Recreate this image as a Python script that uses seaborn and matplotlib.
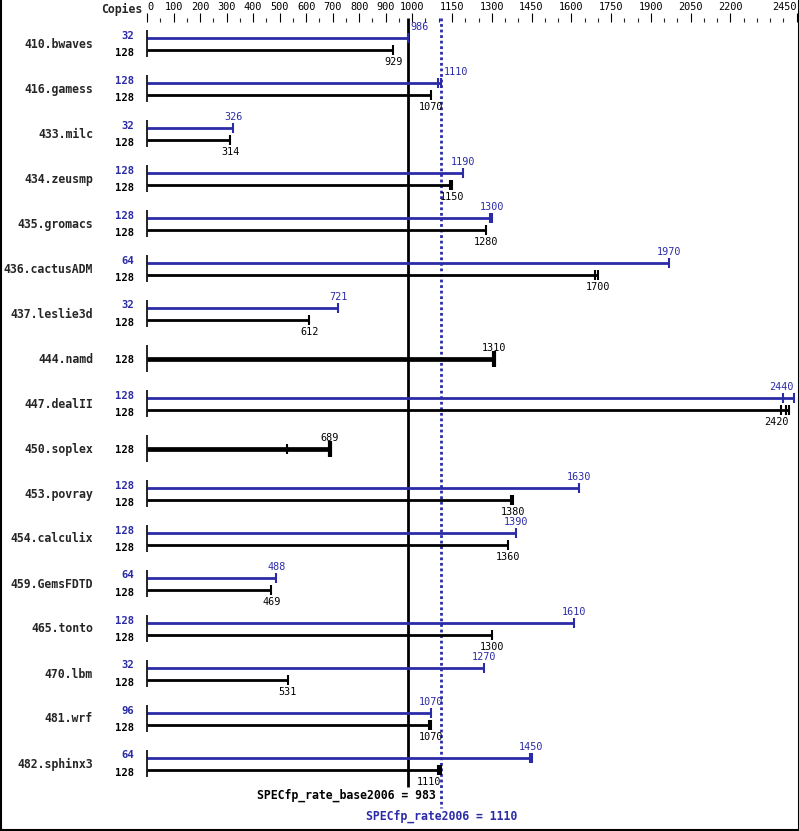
import matplotlib
matplotlib.use('Agg')
import matplotlib.pyplot as plt
import matplotlib.transforms as mtransforms
from matplotlib.lines import Line2D
import pandas as pd
import seaborn as sns

# ---------------- data ----------------
benchmarks = ["410.bwaves", "416.gamess", "433.milc", "434.zeusmp", "435.gromacs",
              "436.cactusADM", "437.leslie3d", "444.namd", "447.dealII", "450.soplex",
              "453.povray", "454.calculix", "459.GemsFDTD", "465.tonto", "470.lbm",
              "481.wrf", "482.sphinx3"]
peak_copies = [32, 128, 32, 128, 128, 64, 32, None, 128, None, 128, 128, 64, 128, 32, 96, 64]
peak_ratio = [986, 1110, 326, 1190, 1300, 1970, 721, None, 2440, None, 1630, 1390, 488, 1610, 1270, 1070, 1450]
base_copies = [128] * 17
base_ratio = [929, 1070, 314, 1150, 1280, 1700, 612, 1310, 2420, 689, 1380, 1360, 469, 1300, 531, 1070, 1110]
# other (non-median) run results visible as extra ticks
extra_bench = ["416.gamess", "434.zeusmp", "435.gromacs", "436.cactusADM", "447.dealII",
               "447.dealII", "447.dealII", "450.soplex", "453.povray", "481.wrf",
               "482.sphinx3", "482.sphinx3", "482.sphinx3"]
extra_series = ["peak", "base", "peak", "base", "peak", "base", "base", "base", "base", "base",
                "peak", "base", "base"]
extra_value = [1098, 1142, 1294, 1690, 2397, 2391, 2408, 528, 1372, 1062, 1444, 1096, 1102]
base_score = 983
peak_score = 1110
major_ticks = [0, 100, 200, 300, 400, 500, 600, 700, 800, 900, 1000,
               1150, 1300, 1450, 1600, 1750, 1900, 2050, 2200, 2450]

# ---------------- style ----------------
sns.set_style('white')
plt.rcParams['font.family'] = ['DejaVu Sans Mono']
BLUE = '#2b2ba8'

W, H = 799, 831
fig = plt.figure(figsize=(W / 100, H / 100), dpi=100)
ax_left, ax_right, ax_top = 147, 797, 22
ax = fig.add_axes([ax_left / W, 0, (ax_right - ax_left) / W, (H - ax_top) / H])
ppu = 0.2652  # pixels per ratio unit
ax.set_xlim(0, (ax_right - ax_left) / ppu)
ax.set_ylim(H - ax_top, 0)
for s in ax.spines.values():
    s.set_visible(False)

SLOT = 45
OFF_PEAK, OFF_BASE, OFF_SINGLE = 16, 28, 22

rows = []
for i, b in enumerate(benchmarks):
    y0 = i * SLOT
    if peak_ratio[i] is None:
        rows.append(dict(bench=b, series='single', value=base_ratio[i], y=y0 + OFF_SINGLE,
                         copies=base_copies[i]))
    else:
        rows.append(dict(bench=b, series='peak', value=peak_ratio[i], y=y0 + OFF_PEAK,
                         copies=peak_copies[i]))
        rows.append(dict(bench=b, series='base', value=base_ratio[i], y=y0 + OFF_BASE,
                         copies=base_copies[i]))
df = pd.DataFrame(rows)
ymap = {(r.bench, r.series): r.y for r in df.itertuples()}
ymap.update({(r.bench, 'base'): r.y for r in df.itertuples() if r.series == 'single'})

colors = {'peak': BLUE, 'base': 'black', 'single': 'black'}
widths = {'peak': 2.0, 'base': 2.0, 'single': 3.4}

# bars
for r in df.itertuples():
    ax.hlines(r.y, 0, r.value, color=colors[r.series], lw=widths[r.series], zorder=3)

# end caps + extra run ticks
caps = df[['value', 'y', 'series']].copy()
ext = pd.DataFrame(dict(value=extra_value,
                        y=[ymap[(b, s)] for b, s in zip(extra_bench, extra_series)],
                        series=['single' if (b, 'single') in ymap else s
                                for b, s in zip(extra_bench, extra_series)]))
ext['series'] = [('base' if s == 'single' else s) for s in ext['series']]
allcaps = pd.concat([caps, ext], ignore_index=True)
thin = allcaps[allcaps.series != 'single']
sns.scatterplot(data=thin, x='value', y='y', hue='series', palette=colors, marker='|',
                s=55, linewidth=1.5, legend=False, ax=ax, zorder=4, clip_on=False)
thick = allcaps[allcaps.series == 'single']
sns.scatterplot(data=thick, x='value', y='y', color='black', marker='|',
                s=120, linewidth=3, legend=False, ax=ax, zorder=4, clip_on=False)

# baseline segments for each benchmark
for i in range(len(benchmarks)):
    ax.vlines(0, i * SLOT + 8, i * SLOT + 35, color='black', lw=1.2, zorder=3, clip_on=False)

# reference lines
ax.vlines(base_score, -4, 765, color='black', lw=2, zorder=2, clip_on=False)
ax.vlines(peak_score, -4, 786, color=BLUE, lw=2, linestyles=(0, (1, 1)), zorder=2, clip_on=False)

# value labels
dx = 2 / ppu
for r in df.itertuples():
    v = r.value
    if r.series == 'peak':
        ty, col = r.y - 11, BLUE
        if any(0 <= v - ref < 30 for ref in (base_score, peak_score)):
            ha, tx = 'left', v + dx
        else:
            ha, tx = 'center', v
    elif r.series == 'base':
        ty, col = r.y + 12, 'black'
        if 0 <= v - peak_score < 15:
            ha, tx = 'right', v
        else:
            ha, tx = 'center', v
    else:
        ty, col = r.y - 11, 'black'
        ha, tx = 'center', v
    if v > 2350:
        ha, tx = 'right', v
    ax.text(tx, ty, f"{v:d}", color=col, ha=ha, va='center', fontsize=7.3, zorder=5, clip_on=False)

# left labels
tr = mtransforms.blended_transform_factory(fig.transFigure, ax.transData)
for i, b in enumerate(benchmarks):
    ax.text(93 / W, i * SLOT + 22, b, transform=tr, ha='right', va='center',
            fontsize=8.3, fontweight='bold')
for r in df.itertuples():
    if r.series == 'peak':
        ty, col = r.y - 2.5, BLUE
    elif r.series == 'base':
        ty, col = r.y + 3, 'black'
    else:
        ty, col = r.y + 1, 'black'
    ax.text(134 / W, ty, str(int(r.copies)), transform=tr, ha='right', va='center',
            fontsize=7.6, fontweight='bold', color=col)

fig.text(142 / W, 1 - 9 / H, "Copies", ha='right', va='center', fontsize=8.3, fontweight='bold')

# top axis
ax.xaxis.tick_top()
ax.set_xticks(major_ticks)
ax.set_xticklabels([str(t) for t in major_ticks])
ax.set_xticks(list(range(0, 2451, 50)), minor=True)
ax.tick_params(axis='x', which='major', direction='out', length=6.5, width=0.8,
               pad=1, labelsize=7.4, colors='black', top=True, bottom=False)
ax.tick_params(axis='x', which='minor', direction='out', length=3, width=0.8,
               top=True, bottom=False)
ax.set_yticks([])
labs = ax.get_xticklabels()
labs[0].set_horizontalalignment('left')
labs[-1].set_horizontalalignment('right')
ax.set_xlabel('')
ax.set_ylabel('')

# score texts
ax.text(peak_score - 23, 773, f"SPECfp_rate_base2006 = {base_score}", ha='right', va='center',
        fontsize=8.3, fontweight='bold', color='black', clip_on=False)
ax.text(peak_score, 794, f"SPECfp_rate2006 = {peak_score}", ha='center', va='center',
        fontsize=8.3, fontweight='bold', color=BLUE, clip_on=False)

# image border
for xs, ys in [([0.5 / W, 0.5 / W], [0, 1]), ([1 - 0.5 / W, 1 - 0.5 / W], [0, 1]),
               ([0, 1], [0.8 / H, 0.8 / H])]:
    fig.add_artist(Line2D(xs, ys, transform=fig.transFigure, color='black', lw=1.5))

fig.savefig('out.png', dpi=100)
